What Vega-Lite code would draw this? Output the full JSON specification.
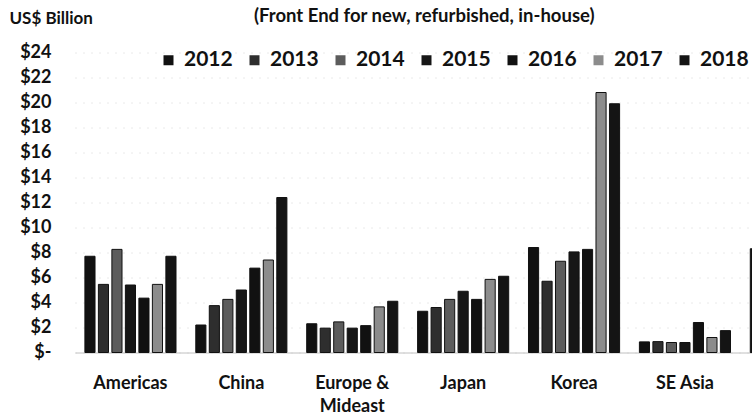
{
  "$schema": "https://vega.github.io/schema/vega-lite/v6.json",
  "autosize": {"type": "none"},
  "padding": {"left": 75, "top": 52.5, "right": 0, "bottom": 64.5},
  "width": 677,
  "height": 300,
  "background": "white",
  "config": {
    "font": "Lato",
    "view": {"stroke": null},
    "title": {"font": "Lato", "fontSize": 18.5, "fontWeight": "bold", "color": "#111"}
  },
  "title": {"text": "(Front End for new, refurbished, in-house)", "anchor": "start", "frame": "group", "dx": 179, "offset": -16},
  "data": {
    "values": [
      {"region": "Americas", "year": "2012", "value": 7.7},
      {"region": "Americas", "year": "2013", "value": 5.45},
      {"region": "Americas", "year": "2014", "value": 8.25},
      {"region": "Americas", "year": "2015", "value": 5.4},
      {"region": "Americas", "year": "2016", "value": 4.35},
      {"region": "Americas", "year": "2017", "value": 5.45},
      {"region": "Americas", "year": "2018", "value": 7.7},
      {"region": "China", "year": "2012", "value": 2.2},
      {"region": "China", "year": "2013", "value": 3.75},
      {"region": "China", "year": "2014", "value": 4.25},
      {"region": "China", "year": "2015", "value": 5.0},
      {"region": "China", "year": "2016", "value": 6.75},
      {"region": "China", "year": "2017", "value": 7.4},
      {"region": "China", "year": "2018", "value": 12.4},
      {"region": "Europe & Mideast", "year": "2012", "value": 2.3},
      {"region": "Europe & Mideast", "year": "2013", "value": 1.95},
      {"region": "Europe & Mideast", "year": "2014", "value": 2.45},
      {"region": "Europe & Mideast", "year": "2015", "value": 1.95},
      {"region": "Europe & Mideast", "year": "2016", "value": 2.15},
      {"region": "Europe & Mideast", "year": "2017", "value": 3.65},
      {"region": "Europe & Mideast", "year": "2018", "value": 4.1},
      {"region": "Japan", "year": "2012", "value": 3.3},
      {"region": "Japan", "year": "2013", "value": 3.6},
      {"region": "Japan", "year": "2014", "value": 4.25},
      {"region": "Japan", "year": "2015", "value": 4.9},
      {"region": "Japan", "year": "2016", "value": 4.25},
      {"region": "Japan", "year": "2017", "value": 5.85},
      {"region": "Japan", "year": "2018", "value": 6.1},
      {"region": "Korea", "year": "2012", "value": 8.4},
      {"region": "Korea", "year": "2013", "value": 5.7},
      {"region": "Korea", "year": "2014", "value": 7.3},
      {"region": "Korea", "year": "2015", "value": 8.05},
      {"region": "Korea", "year": "2016", "value": 8.25},
      {"region": "Korea", "year": "2017", "value": 20.8},
      {"region": "Korea", "year": "2018", "value": 19.9},
      {"region": "SE Asia", "year": "2012", "value": 0.85},
      {"region": "SE Asia", "year": "2013", "value": 0.87},
      {"region": "SE Asia", "year": "2014", "value": 0.8},
      {"region": "SE Asia", "year": "2015", "value": 0.8},
      {"region": "SE Asia", "year": "2016", "value": 2.4},
      {"region": "SE Asia", "year": "2017", "value": 1.2},
      {"region": "SE Asia", "year": "2018", "value": 1.75},
      {"region": "Taiwan", "year": "2012", "value": 8.3}
    ]
  },
  "mark": {"type": "bar", "stroke": "#111", "strokeWidth": 1},
  "encoding": {
    "x": {
      "field": "region", "type": "nominal",
      "sort": ["Americas", "China", "Europe & Mideast", "Japan", "Korea", "SE Asia", "Taiwan"],
      "scale": {"range": [0, 776.3], "paddingInner": 0.148, "paddingOuter": 0.074},
      "axis": {
        "title": null, "labelAngle": 0, "ticks": false,
        "domainColor": "#c0c0c0", "domainWidth": 1,
        "labelFont": "Lato", "labelFontSize": 18, "labelFontWeight": "bold", "labelColor": "#111",
        "labelPadding": 22, "labelLineHeight": 23, "labelBaseline": "top",
        "labelExpr": "datum.value == 'Taiwan' ? '' : datum.value == 'Europe & Mideast' ? ['Europe &', 'Mideast'] : datum.value"
      }
    },
    "xOffset": {
      "field": "year", "type": "nominal",
      "scale": {"paddingInner": 0.25, "paddingOuter": 0.125}
    },
    "y": {
      "field": "value", "type": "quantitative",
      "scale": {"domain": [0, 24], "nice": false},
      "axis": {
        "title": "US$ Billion", "titleAngle": 0, "titleX": -66, "titleY": -34.5,
        "titleAlign": "left", "titleBaseline": "middle",
        "titleFont": "Lato", "titleFontSize": 17, "titleFontWeight": "bold", "titleColor": "#111",
        "values": [0, 2, 4, 6, 8, 10, 12, 14, 16, 18, 20, 22, 24],
        "labelExpr": "datum.value == 0 ? '$-' : '$' + datum.value",
        "labelFont": "Lato", "labelFontSize": 18, "labelFontWeight": "bold", "labelColor": "#111",
        "ticks": false, "domain": false, "labelPadding": 24,
        "grid": true, "gridColor": "#d4d4d4", "gridDash": [1, 7], "gridWidth": 1
      }
    },
    "color": {
      "field": "year", "type": "nominal",
      "scale": {
        "domain": ["2012", "2013", "2014", "2015", "2016", "2017", "2018"],
        "range": ["#111111", "#2e2e2e", "#5c5c5c", "#161616", "#111111", "#8c8c8c", "#141414"]
      },
      "legend": {
        "title": null, "orient": "none", "direction": "horizontal",
        "legendX": 83, "legendY": -3,
        "symbolType": "square", "symbolSize": 100, "symbolStrokeWidth": 0,
        "labelFont": "Lato", "labelFontSize": 21, "labelFontWeight": "bold", "labelColor": "#111",
        "labelOffset": 5, "columnPadding": 11
      }
    }
  }
}
